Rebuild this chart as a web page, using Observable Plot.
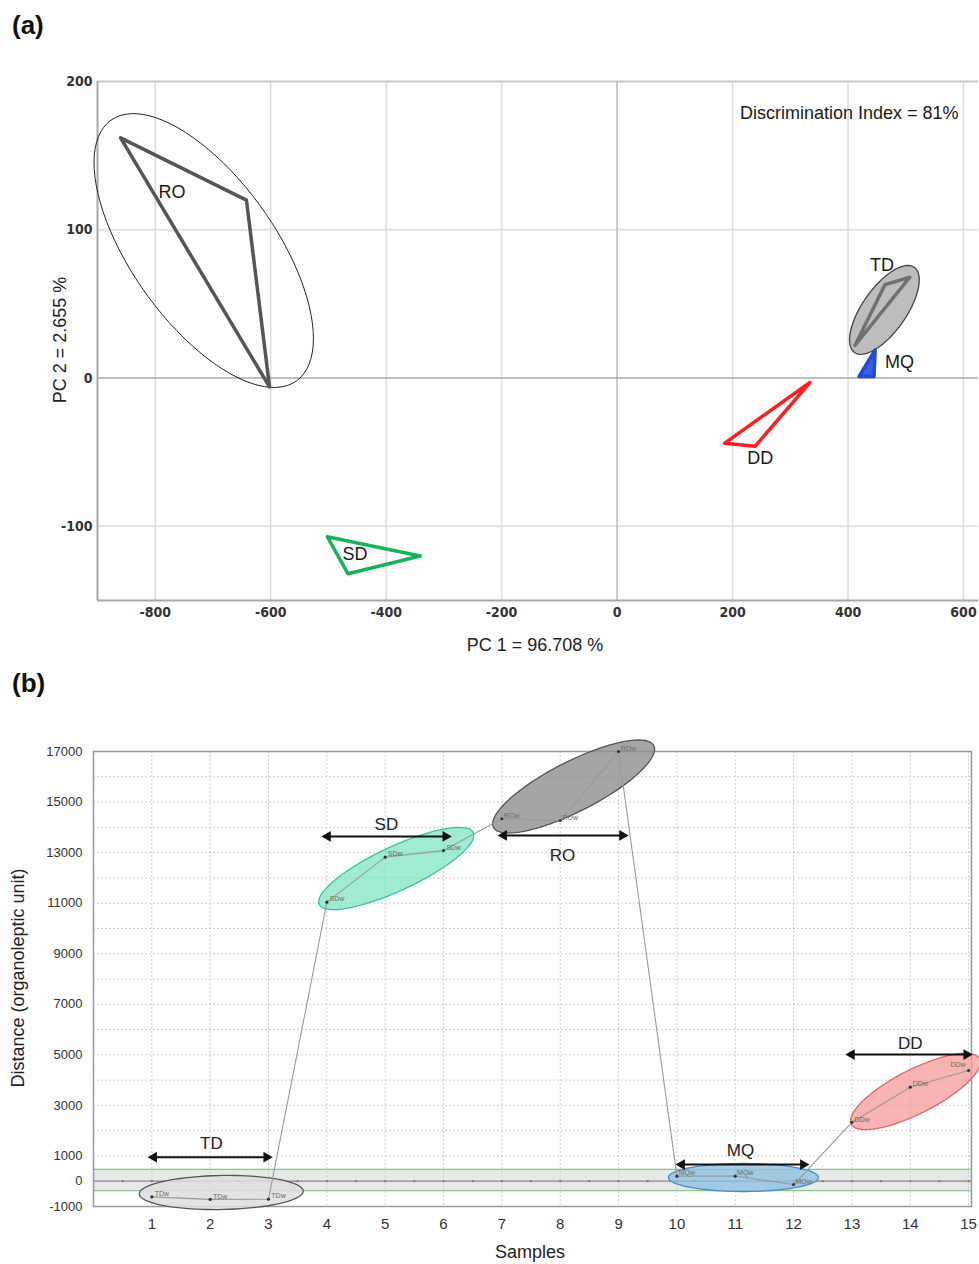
<!DOCTYPE html>
<html><head><meta charset="utf-8">
<script src="https://cdn.jsdelivr.net/npm/d3@7"></script>
<script src="https://cdn.jsdelivr.net/npm/@observablehq/plot@0.6"></script>
<style>
body{margin:0;background:#fff;width:979px;height:1264px;position:relative;overflow:hidden;font-family:"Liberation Sans",Arial,sans-serif}
.pl{position:absolute;left:0}
.ttl{position:absolute;font-weight:bold;font-size:26px;color:#111}
.lab{position:absolute;font-size:18px;color:#222;white-space:nowrap;line-height:20px}
#B [aria-label^="x-axis"] text{font-size:15px}
</style></head><body>
<div class="ttl" style="left:12px;top:10px">(a)</div>
<div id="A" class="pl" style="top:60px"></div>
<div class="lab" style="left:535px;top:635px;transform:translateX(-50%)">PC 1 = 96.708 %</div>
<div class="lab" style="left:60px;top:340px;transform:translate(-50%,-50%) rotate(-90deg)">PC 2 = 2.655 %</div>
<div class="ttl" style="left:12px;top:668px">(b)</div>
<div id="B" class="pl" style="top:730px"></div>
<div class="lab" style="left:530px;top:1242px;transform:translateX(-50%)">Samples</div>
<div class="lab" style="left:18px;top:978px;transform:translate(-50%,-50%) rotate(-90deg)">Distance (organoleptic unit)</div>
<script>
// ---------- Panel (a) data: PCA scores ----------
const groupNames = ["RO", "TD", "MQ", "DD", "SD"];
const roPC1 = [-860, -642, -602], roPC2 = [162, 120, -6];
const tdPC1 = [507, 464, 412],   tdPC2 = [68, 63, 22];
const mqPC1 = [419, 447, 445],   mqPC2 = [1, 19, 1];
const ddPC1 = [334, 186, 239],   ddPC2 = [-3, -44, -46];
const sdPC1 = [-502, -341, -466], sdPC2 = [-107, -120, -132];
const pc1Ticks = [-800, -600, -400, -200, 0, 200, 400, 600];
const pc2Ticks = [-100, 0, 100, 200];
const discrimination = "Discrimination Index = 81%";

// ---------- Panel (b) data: distances ----------
const sampleIds = [1, 2, 3, 4, 5, 6, 7, 8, 9, 10, 11, 12, 13, 14, 15];
const sampleGroups = ["TD","TD","TD","SD","SD","SD","RO","RO","RO","MQ","MQ","MQ","DD","DD","DD"];
const distances = [-620, -720, -710, 11040, 12820, 13080, 14340, 14270, 17000, 200, 200, -130, 2330, 3720, 4380];
const sampleTicks = [1, 2, 3, 4, 5, 6, 7, 8, 9, 10, 11, 12, 13, 14, 15];
const distTicks = [-1000, 0, 1000, 3000, 5000, 7000, 9000, 11000, 13000, 15000, 17000];

// ---------- helpers ----------
function ellipse(cx, cy, a, b, angDeg, kx, ky, n = 90) {
  const th = angDeg * Math.PI / 180, pts = [];
  for (let i = 0; i < n; i++) {
    const t = 2 * Math.PI * i / n;
    const dx = a * Math.cos(t) * Math.cos(th) - b * Math.sin(t) * Math.sin(th);
    const dy = a * Math.cos(t) * Math.sin(th) + b * Math.sin(t) * Math.cos(th);
    pts.push({x: cx + dx / kx, y: cy - dy / ky});
  }
  return pts;
}
const normalText = {fontFamily: '"Liberation Sans",Arial,sans-serif', fontWeight: "normal"};

// ---------- Panel (a) ----------
{
  const W = 979, H = 600, ml = 97, mr = 1, mt = 21, mb = 60;
  const xDom = [-900, 626], yDom = [-150, 200];
  const kx = (W - ml - mr) / (xDom[1] - xDom[0]);
  const ky = (H - mt - mb) / (yDom[1] - yDom[0]);
  const sets = {RO: [roPC1, roPC2], TD: [tdPC1, tdPC2], MQ: [mqPC1, mqPC2], DD: [ddPC1, ddPC2], SD: [sdPC1, sdPC2]};
  const rows = groupNames.flatMap(g => sets[g][0].map((v, i) => ({group: g, pc1: v, pc2: sets[g][1][i]})));
  const roEll = ellipse(-716, 86, 160, 72, 54.6, kx, ky);
  const tdEll = ellipse(463, 46, 52, 22, -55, kx, ky);
  const labels = [
    {t: "RO", x: -771, y: 125}, {t: "TD", x: 459, y: 76}, {t: "MQ", x: 489, y: 11},
    {t: "DD", x: 248, y: -54}, {t: "SD", x: -454, y: -119}
  ];
  const plot = Plot.plot({
    width: W, height: H, marginLeft: ml, marginRight: mr, marginTop: mt, marginBottom: mb,
    style: {fontFamily: '"Liberation Sans Narrow","DejaVu Sans Condensed","Liberation Sans",sans-serif', fontSize: "14px", fontWeight: "bold", color: "#333", background: "transparent", overflow: "visible"},
    x: {domain: xDom, ticks: pc1Ticks, tickSize: 0, tickPadding: 7, label: null, tickFormat: d => String(d)},
    y: {domain: yDom, ticks: pc2Ticks, tickSize: 0, tickPadding: 5, label: null, tickFormat: d => String(d)},
    color: {domain: groupNames, range: ["#555555", "#707070", "#2249d8", "#ff1f1f", "#17b35c"]},
    marks: [
      Plot.ruleX(pc1Ticks.filter(d => d !== 0), {stroke: "#dcdcdc", strokeWidth: 1.5}),
      Plot.ruleY(pc2Ticks.filter(d => d !== 0 && d !== 200), {stroke: "#dcdcdc", strokeWidth: 1.5}),
      Plot.ruleY([200], {stroke: "#c8c8c8", strokeWidth: 2}),
      Plot.ruleX([0], {stroke: "#b8b8b8", strokeWidth: 1.5}),
      Plot.ruleY([0], {stroke: "#aaaaaa", strokeWidth: 1.5}),
      Plot.ruleX([xDom[0]], {stroke: "#a8a8a8", strokeWidth: 2}),
      Plot.ruleY([yDom[0]], {stroke: "#a8a8a8", strokeWidth: 2}),
      Plot.line(roEll, {x: "x", y: "y", curve: "linear-closed", stroke: "#222", strokeWidth: 1, fill: "none"}),
      Plot.line(tdEll, {x: "x", y: "y", curve: "linear-closed", stroke: "#444", strokeWidth: 1.3, fill: "#bdbdbd"}),
      Plot.line(rows.filter(d => d.group === "MQ"), {x: "pc1", y: "pc2", curve: "linear-closed", fill: "#3a5fe0", stroke: "none"}),
      Plot.line(rows, {x: "pc1", y: "pc2", z: "group", stroke: "group", curve: "linear-closed", strokeWidth: 3.5, strokeLinejoin: "round"}),
      Plot.text(labels, {x: "x", y: "y", text: "t", fontSize: 18, fill: "#1a1a1a", ...normalText}),
      Plot.text([discrimination], {frameAnchor: "top-right", text: d => d, dx: -20, dy: 25, textAnchor: "end", fontSize: 18, fill: "#1a1a1a", ...normalText})
    ]
  });
  document.getElementById("A").appendChild(plot);
}

// ---------- Panel (b) ----------
{
  const W = 979, H = 534, ml = 93, mr = 8, mt = 21, mb = 58;
  const xDom = [0, 15.05], yDom = [-1000, 17000];
  const kx = (W - ml - mr) / (xDom[1] - xDom[0]);
  const ky = (H - mt - mb) / (yDom[1] - yDom[0]);
  const rows = sampleIds.map((s, i) => ({sample: s, group: sampleGroups[i], dist: distances[i]}));
  const last = sampleIds.length - 1;
  const ells = [
    {pts: ellipse(2.19, -446, 82, 17, -1, kx, ky), fill: "#dedede", op: 0.85, stroke: "#555"},
    {pts: ellipse(5.19, 12371, 85, 22, -25, kx, ky), fill: "#6fdfbb", op: 0.65, stroke: "#36c798"},
    {pts: ellipse(8.23, 15615, 90, 25, -27, kx, ky), fill: "#8f8f8f", op: 0.8, stroke: "#555"},
    {pts: ellipse(11.14, 147, 75, 14, 0, kx, ky), fill: "#8fc0e2", op: 0.8, stroke: "#4a8cc8"},
    {pts: ellipse(14.09, 3550, 72, 22, -27, kx, ky), fill: "#f59999", op: 0.75, stroke: "#e06666"}
  ];
  const arrows = [
    {x1: 1, x2: 3, y: 950}, {x1: 3.98, x2: 6.07, y: 13640}, {x1: 7.0, x2: 9.1, y: 13680},
    {x1: 10.05, x2: 12.2, y: 660}, {x1: 12.96, x2: 15.0, y: 5010}
  ];
  const arrowLabels = [
    {t: "TD", x: 2.02, y: 1500}, {t: "SD", x: 5.02, y: 14110}, {t: "RO", x: 8.04, y: 12890},
    {t: "MQ", x: 11.09, y: 1230}, {t: "DD", x: 14.0, y: 5450}
  ];
  const halfTicks = d3.range(0.5, 15.01, 0.5);
  const plot = Plot.plot({
    width: W, height: H, marginLeft: ml, marginRight: mr, marginTop: mt, marginBottom: mb,
    style: {fontFamily: '"Liberation Sans",Arial,sans-serif', fontSize: "13px", color: "#333", background: "transparent", overflow: "visible"},
    x: {domain: xDom, ticks: sampleTicks, tickSize: 0, tickPadding: 12, label: null, tickFormat: d => String(d)},
    y: {domain: yDom, ticks: distTicks, tickSize: 0, tickPadding: 11, label: null, tickFormat: d => String(d)},
    marks: [
      Plot.rect([0], {x1: xDom[0], x2: xDom[1], y1: -370, y2: 470, fill: "#e8e8e8"}),
      Plot.ruleX(sampleTicks, {stroke: "#cfcfcf", strokeDasharray: "2,2"}),
      Plot.ruleY(d3.range(-1000, 17001, 1000), {stroke: "#cfcfcf", strokeDasharray: "2,2"}),
      Plot.ruleY([470, -370], {stroke: "#8cc48c", strokeWidth: 1.3}),
      Plot.ruleY([0], {stroke: "#888", strokeWidth: 1.2}),
      Plot.dot(halfTicks, {x: d => d, y: 0, r: 1.1, fill: "#777", stroke: "none"}),
      Plot.frame({stroke: "#9a9a9a", strokeWidth: 1.5}),
      ...ells.map(e => Plot.line(e.pts, {x: "x", y: "y", curve: "linear-closed", fill: e.fill, fillOpacity: e.op, stroke: e.stroke, strokeWidth: 1.3})),
      Plot.line(rows, {x: "sample", y: "dist", stroke: "#9a9a9a", strokeWidth: 1.1}),
      Plot.dot(rows, {x: "sample", y: "dist", r: 1.6, fill: "#333", stroke: "none"}),
      Plot.text(rows.slice(0, last), {x: "sample", y: "dist", text: d => d.group + "w", dx: 10, dy: -3, fontSize: 7, fill: "#6e6e50", ...normalText}),
      Plot.text(rows.slice(last), {x: "sample", y: "dist", text: d => d.group + "w", dx: -3, dy: -6, textAnchor: "end", fontSize: 7, fill: "#6e6e50", ...normalText}),
      Plot.link(arrows, {x1: "x1", x2: "x2", y1: "y", y2: "y", stroke: "#111", strokeWidth: 2}),
      Plot.dot(arrows, {x: "x2", y: "y", symbol: "triangle", rotate: 90, r: 4, fill: "#111", stroke: "none", dx: -2}),
      Plot.dot(arrows, {x: "x1", y: "y", symbol: "triangle", rotate: -90, r: 4, fill: "#111", stroke: "none", dx: 2}),
      Plot.text(arrowLabels, {x: "x", y: "y", text: "t", fontSize: 17, fill: "#222", ...normalText})
    ]
  });
  document.getElementById("B").appendChild(plot);
}
</script>
</body></html>
